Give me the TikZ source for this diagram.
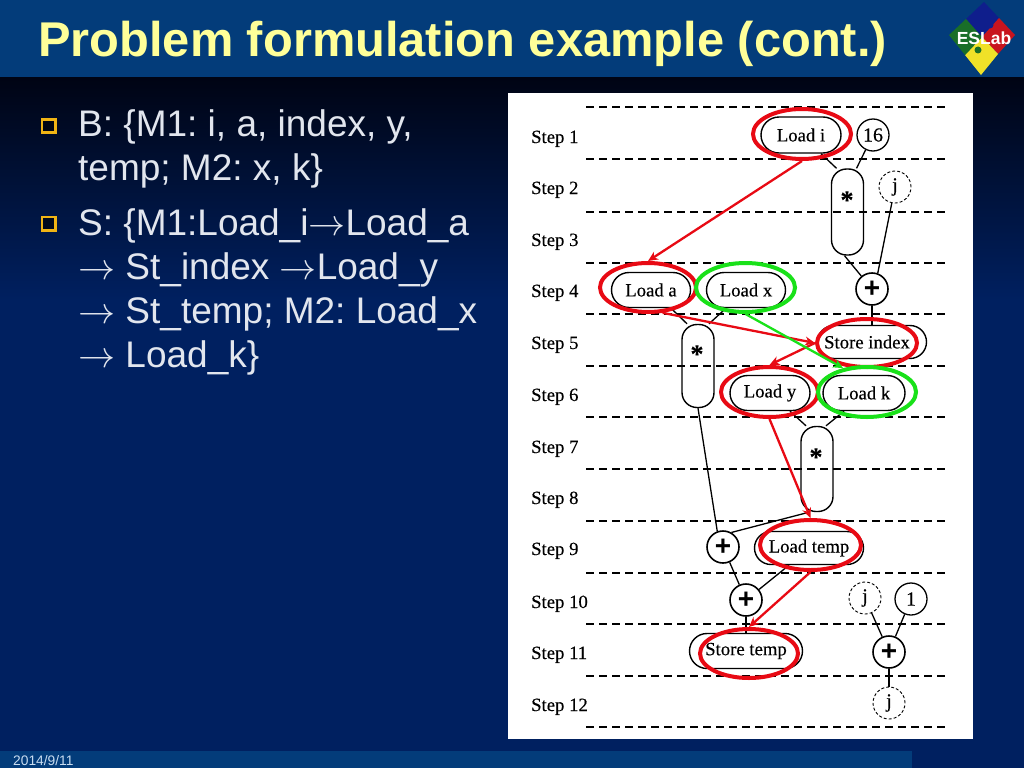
\documentclass[tikz,border=0pt]{standalone}
\usepackage{fontspec}
\setmainfont{Liberation Sans}
\newfontfamily\serifdiag[FakeBold=0.3]{Liberation Serif}
\usetikzlibrary{shapes.geometric,shapes.misc,arrows.meta}
\definecolor{barblue}{RGB}{3,60,122}
\definecolor{navy}{RGB}{0,32,96}
\definecolor{nearblack}{RGB}{0,4,20}
\definecolor{titleyellow}{RGB}{255,255,153}
\definecolor{bodytext}{RGB}{226,230,238}
\definecolor{bulletgold}{RGB}{240,180,20}
\definecolor{markred}{RGB}{232,10,20}
\definecolor{markgreen}{RGB}{25,225,25}
\definecolor{datetext}{RGB}{200,220,240}
\definecolor{logoblue}{RGB}{15,30,140}
\definecolor{logored}{RGB}{200,20,30}
\definecolor{logoyellow}{RGB}{240,225,40}
\definecolor{logogreen}{RGB}{25,110,40}
\newcommand{\thinarrow}{\scalebox{3.7}{\normalsize$\rightarrow$}}
\tikzset{
  x=1pt,y=-1pt,
  bodyline/.style={anchor=north west,align=left,inner sep=0pt,text=bodytext,font=\fontsize{37}{44}\selectfont\frenchspacing},
  steplabel/.style={anchor=base west,inner sep=0pt,font=\serifdiag\fontsize{18.7}{18.7}\selectfont},
  oplabel/.style={rounded rectangle,draw,line width=1.4pt,inner sep=0pt,font=\serifdiag\fontsize{18.7}{18.7}\selectfont},
  pillop/.style={rectangle,draw,line width=1.4pt,rounded corners=15pt,inner sep=0pt,minimum width=32pt},
  pillstar/.style={inner sep=0pt,font=\serifdiag\bfseries\fontsize{26}{26}\selectfont},
  circ/.style={circle,draw,line width=1.3pt,minimum size=32pt,inner sep=0pt,font=\serifdiag\fontsize{20}{20}\selectfont},
  dcirc/.style={circ,densely dashed,line width=.9pt},
  plusop/.style={circ,line width=1.6pt,font=\rmfamily\bfseries\fontsize{28}{28}\selectfont},
  stepline/.style={line width=1.4pt,dash pattern=on 8pt off 5pt},
  conn/.style={line width=1.3pt},
  redring/.style={ellipse,draw=markred,line width=4pt,inner sep=0pt},
  greenring/.style={ellipse,draw=markgreen,line width=4pt,inner sep=0pt},
  redarrow/.style={draw=markred,line width=2.3pt,-{Stealth[length=10pt,width=9pt]}},
  greenarrow/.style={draw=markgreen,line width=2.3pt,-{Stealth[length=10pt,width=9pt]}}
}
\begin{document}
\begin{tikzpicture}
\useasboundingbox (0,0) rectangle (1024,768);
% background
\fill[navy] (0,0) rectangle (1024,768);
\shade[top color=nearblack,bottom color=navy] (0,77) rectangle (1024,300);
\fill[barblue] (0,0) rectangle (1024,77);
\fill[barblue] (0,751) rectangle (912,768);
% title and footer
\node[anchor=base west,inner sep=0pt,text=titleyellow,font=\bfseries\fontsize{48.8}{48.8}\selectfont] (title) at (38,56.5) {Problem formulation example (cont.)};
\node[anchor=base west,inner sep=0pt,text=datetext,font=\fontsize{13.8}{13.8}\selectfont] (date) at (13,765) {2014/9/11};
% logo
\fill[logoblue] (984,2) -- (999,18) -- (982,37) -- (966,19) -- cycle;
\fill[logored] (999,18) -- (1015,35) -- (998,54) -- (982,37) -- cycle;
\fill[logoyellow] (982,37) -- (998,54) -- (981,75) -- (965,55) -- cycle;
\fill[logogreen] (966,19) -- (982,37) -- (965,55) -- (949,35) -- cycle;
\fill[logogreen] (978,50) circle (3.5);
\fill[logoblue] (990,25) circle (3.5);
\node[inner sep=0pt,text=white,font=\bfseries\fontsize{17.5}{17.5}\selectfont] (logotext) at (984,38) {ESLab};
% bullets
\fill[bulletgold] (40.5,118) rectangle (57,134);
\fill[black!80!navy] (43,120.5) rectangle (53.5,130.5);
\fill[bulletgold] (40.5,215.5) rectangle (57,232);
\fill[black!70!navy] (43,218) rectangle (53.5,228.5);
\node[bodyline] (t1) at (78,109.5) {B: \{M1: i, a, index, y,\\temp; M2: x, k\}};
\node[bodyline] (t2) at (78,208) {S: \{M1:Load\_i\thinarrow Load\_a\\\thinarrow\ St\_index \thinarrow Load\_y\\\thinarrow\ St\_temp; M2: Load\_x\\\thinarrow\ Load\_k\}};
% paper
\fill[white] (508,93) rectangle (973,739);
% step lines
\foreach \yy in {107,159,212,263,314,366,417,469,521,573,624,676,727}
  \draw[stepline] (586,\yy) -- (949,\yy);
% step labels
\foreach \nn/\yy in {1/143,2/194,3/246,4/297,5/349,6/401,7/453,8/504,9/555,10/608,11/659,12/711}
  \node[steplabel] (s\nn) at (531,\yy) {Step \nn};
% operations
\node[oplabel,minimum width=80pt,minimum height=36pt] (li) at (801,135) {Load i};
\node[circ] (c16) at (873,135) {16};
\node[pillop,minimum height=86pt] (m1) at (847.5,212) {};
\node[pillstar] at (847,200) {*};
\node[dcirc] (j1) at (895,187) {j};
\node[plusop] (p1) at (872,289) {+};
\node[oplabel,minimum width=79pt,minimum height=35pt] (la) at (651,290) {Load a};
\node[oplabel,minimum width=79pt,minimum height=35pt] (lx) at (746,290) {Load x};
\node[pillop,minimum height=83pt] (m2) at (698,366) {};
\node[pillstar] at (697,354) {*};
\node[oplabel,minimum width=109pt,minimum height=33pt] (si) at (872,342) {Store index\hspace*{10pt}};
\node[oplabel,minimum width=80pt,minimum height=35pt] (ly) at (770,393) {Load y};
\node[oplabel,minimum width=82pt,minimum height=35pt] (lk) at (864,393) {Load k};
\node[pillop,minimum height=85pt] (m3) at (817,469) {};
\node[pillstar] at (816,457) {*};
\node[plusop] (p2) at (723,547) {+};
\node[oplabel,minimum width=109pt,minimum height=33pt] (lt) at (809,548) {Load temp};
\node[plusop] (p3) at (746,600) {+};
\node[dcirc] (j2) at (865,598) {j};
\node[circ] (c1) at (911,599) {1};
\node[oplabel,minimum width=113pt,minimum height=35pt] (st) at (746,651) {Store temp};
\node[plusop] (p4) at (889,652) {+};
\node[dcirc] (j3) at (889,703) {j};
% connectors
\draw[conn] ([xshift=20pt]li.south) -- ([xshift=-11pt]m1.north);
\draw[conn] (c16) -- ([xshift=9pt]m1.north);
\draw[conn] (j1) -- (p1.70);
\draw[conn] ([xshift=-3pt]m1.south) -- (p1);
\draw[conn] ([xshift=20pt]la.south) -- ([xshift=-11pt]m2.north);
\draw[conn] ([xshift=-20pt]lx.south) -- ([xshift=11pt]m2.north);
\draw[conn] (p1) -- ([xshift=0pt]si.north);
\draw[conn] ([xshift=20pt]ly.south) -- ([xshift=-11pt]m3.north);
\draw[conn] ([xshift=-20pt]lk.south) -- ([xshift=9pt]m3.north);
\draw[conn] (m2.south) -- (p2.110);
\draw[conn] ([xshift=-8pt]m3.south) -- (p2.60);
\draw[conn] (p2) -- (p3);
\draw[conn] ([xshift=-20pt]lt.south) -- (p3);
\draw[conn] (p3) -- (p3 |- st.north);
\draw[conn] (j2) -- (p4);
\draw[conn] (c1) -- (p4);
\draw[conn] (p4) -- (j3);
% schedule marks
\node[redring,minimum width=98pt,minimum height=50pt] (ri) at (802,134) {};
\node[redring,minimum width=96pt,minimum height=49pt] (ra) at (648,287.5) {};
\node[greenring,minimum width=99pt,minimum height=49pt] (gx) at (745.5,287.5) {};
\node[redring,minimum width=100pt,minimum height=48pt] (ri2) at (867,343) {};
\node[redring,minimum width=97pt,minimum height=50pt] (ry) at (769.5,392) {};
\node[greenring,minimum width=98pt,minimum height=50pt] (gk) at (867,392) {};
\node[redring,minimum width=101pt,minimum height=50pt] (rt) at (810.5,545) {};
\node[redring,minimum width=98pt,minimum height=49pt] (rs) at (749,653.5) {};
\draw[redarrow] (ri.south) -- (ra.north);
\draw[redarrow] (ra.-60) -- (ri2.west);
\draw[redarrow] (ri2.west) -- (ry.north);
\draw[redarrow] (ry.south) -- (rt.north);
\draw[redarrow] (rt.south) -- (rs.north);
\draw[greenarrow] (gx.south) -- (gk.135);
\end{tikzpicture}
\end{document}
